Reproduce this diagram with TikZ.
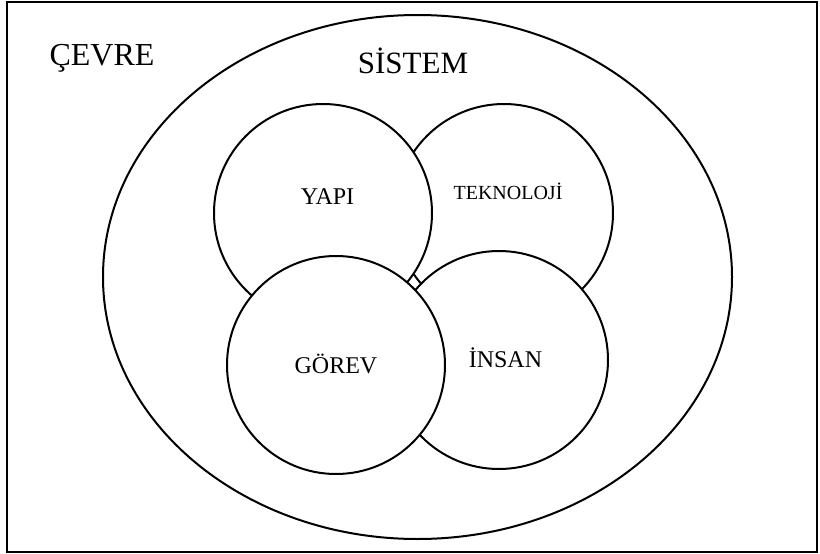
\documentclass[tikz,border=0pt]{standalone}
\usepackage{fontspec}
\setmainfont{Liberation Serif}
\usepackage{tikz}
\usetikzlibrary{shapes.geometric, positioning}

\begin{document}
\begin{tikzpicture}[x=1pt, y=-1pt,
        part/.style={circle, draw, fill=white, line width=2pt, minimum size=218pt, inner sep=0pt},
        bound/.style={ellipse, draw, line width=2pt, minimum width=629pt, minimum height=524pt, inner sep=0pt},
        lbl/.style={anchor=base, inner sep=0pt, font=\fontsize{24}{24}\selectfont}
    ]
        \useasboundingbox (0,0) rectangle (820,554);
        \draw [line width=1.4pt] (7,2) rectangle (817,552);

        \node (sistem) [bound] at (417.5,277) {};

        \node (tek) [part] at (504,213) {};
        \node (yapi) [part] at (323,213) {};
        \node (insan) [part] at (499,360) {};
        \node (gorev) [part] at (336,365) {};

        \node (tcevre) [lbl, font=\fontsize{32}{32}\selectfont] at (102,65) {ÇEVRE};
        \node (tsistem) [lbl, font=\fontsize{31}{31}\selectfont] at (413,73) {SİSTEM};
        \node (tyapi) [lbl] at (327.5,204) {YAPI};
        \node (ttek) [lbl, font=\fontsize{20}{20}\selectfont] at (508,199) {TEKNOLOJİ};
        \node (tgorev) [lbl] at (336,373) {GÖREV};
        \node (tinsan) [lbl] at (505.5,367) {İNSAN};
    \end{tikzpicture}
\end{document}
